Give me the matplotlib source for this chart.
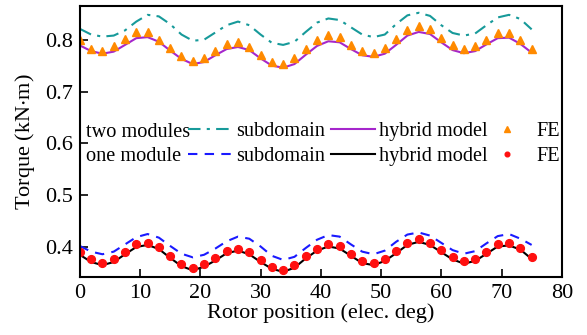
import numpy as np
import matplotlib.pyplot as plt

plt.rcParams['font.family'] = ['Liberation Serif', 'DejaVu Serif']
plt.rcParams['mathtext.fontset'] = 'stix'

# rotor position, 41 samples from 0 to 75 elec. deg
position = np.linspace(0, 75, 41)

# two modules
sub_two = [0.821, 0.810, 0.806, 0.808, 0.818, 0.835, 0.848, 0.845, 0.830, 0.810,
           0.798, 0.800, 0.814, 0.828, 0.835, 0.828, 0.810, 0.794, 0.790, 0.796,
           0.815, 0.833, 0.841, 0.838, 0.824, 0.810, 0.805, 0.810, 0.830, 0.847,
           0.852, 0.846, 0.828, 0.813, 0.808, 0.812, 0.828, 0.843, 0.848, 0.840,
           0.820]
hyb_two = [0.789, 0.778, 0.773, 0.777, 0.790, 0.803, 0.805, 0.796, 0.779, 0.763,
           0.753, 0.757, 0.770, 0.782, 0.786, 0.780, 0.764, 0.750, 0.746, 0.753,
           0.771, 0.788, 0.797, 0.795, 0.782, 0.770, 0.767, 0.773, 0.790, 0.808,
           0.815, 0.811, 0.795, 0.780, 0.774, 0.778, 0.791, 0.803, 0.804, 0.792,
           0.775]
fe_two = [0.799, 0.783, 0.779, 0.788, 0.802, 0.815, 0.815, 0.800, 0.784, 0.769,
          0.759, 0.765, 0.779, 0.792, 0.795, 0.786, 0.770, 0.757, 0.754, 0.764,
          0.783, 0.800, 0.809, 0.805, 0.790, 0.778, 0.775, 0.784, 0.801, 0.819,
          0.826, 0.820, 0.803, 0.789, 0.783, 0.788, 0.800, 0.813, 0.813, 0.800,
          0.783]

# one module
sub_one = [0.402, 0.391, 0.386, 0.391, 0.405, 0.419, 0.425, 0.418, 0.402, 0.387,
           0.380, 0.385, 0.397, 0.411, 0.420, 0.416, 0.401, 0.383, 0.375, 0.381,
           0.398, 0.414, 0.423, 0.420, 0.405, 0.391, 0.386, 0.393, 0.410, 0.424,
           0.428, 0.422, 0.408, 0.394, 0.387, 0.392, 0.407, 0.421, 0.425, 0.416,
           0.404]
hyb_one = [0.385, 0.371, 0.365, 0.371, 0.386, 0.400, 0.404, 0.396, 0.379, 0.363,
           0.355, 0.362, 0.374, 0.388, 0.393, 0.386, 0.371, 0.358, 0.352, 0.360,
           0.378, 0.393, 0.401, 0.397, 0.383, 0.369, 0.365, 0.373, 0.388, 0.404,
           0.410, 0.404, 0.390, 0.376, 0.368, 0.373, 0.387, 0.401, 0.403, 0.395,
           0.377]
fe_one = [0.391, 0.376, 0.370, 0.376, 0.391, 0.405, 0.408, 0.400, 0.383, 0.367,
          0.359, 0.367, 0.378, 0.393, 0.397, 0.390, 0.375, 0.362, 0.356, 0.365,
          0.383, 0.397, 0.405, 0.401, 0.387, 0.373, 0.369, 0.377, 0.392, 0.408,
          0.415, 0.408, 0.394, 0.380, 0.372, 0.377, 0.391, 0.405, 0.407, 0.399,
          0.380]

fig = plt.figure(figsize=(5.87, 3.35), dpi=100)
ax = fig.add_axes([0.136, 0.173, 0.821, 0.809])

l_sub2, = ax.plot(position, sub_two, color='#179a9a', lw=1.5, dashes=(6, 3, 1.5, 3))
l_hyb2, = ax.plot(position, hyb_two, color='#a526cc', lw=1.5)
l_fe2, = ax.plot(position, fe_two, ls='none', marker='^', ms=6.2, color='#ff8a00')
l_sub1, = ax.plot(position, sub_one, color='#1a1aff', lw=1.5, dashes=(4.5, 3.5))
l_hyb1, = ax.plot(position, hyb_one, color='black', lw=1.5)
l_fe1, = ax.plot(position, fe_one, ls='none', marker='o', ms=5.6, color='#ff1010')

ax.set_xlim(0, 80)
ax.set_ylim(0.342, 0.865)
ax.set_xticks(np.arange(0, 81, 10))
ax.set_yticks([0.4, 0.5, 0.6, 0.7, 0.8])
ax.tick_params(direction='in', length=6, width=1.2, labelsize=16, pad=5)
for sp in ax.spines.values():
    sp.set_linewidth(1.5)

ax.set_xlabel('Rotor position (elec. deg)', fontsize=16, labelpad=0)
ax.set_ylabel('Torque (kN$\\cdot$m)', fontsize=16, labelpad=6)

ax.text(0.012, 0.535, 'two modules', transform=ax.transAxes, fontsize=14.6, va='center')
ax.text(0.012, 0.443, 'one module', transform=ax.transAxes, fontsize=14.6, va='center')

legend_opts = dict(ncol=2, loc='upper left', frameon=False, fontsize=14.6,
                   handlelength=2.2, columnspacing=0.3, labelspacing=0.3,
                   borderpad=0, borderaxespad=0)
lines_leg = ax.legend([l_sub2, l_sub1, l_hyb2, l_hyb1],
                      ['subdomain', 'subdomain', 'hybrid model', 'hybrid model'],
                      bbox_to_anchor=(0.225, 0.572), handletextpad=0.15,
                      **legend_opts)
ax.add_artist(lines_leg)

legend_opts['ncol'] = 1
ax.legend([l_fe2, l_fe1], ['FE', 'FE'], bbox_to_anchor=(0.840, 0.572),
          handletextpad=0.35, markerscale=0.6, **legend_opts)

fig.savefig('out.png', dpi=100)
